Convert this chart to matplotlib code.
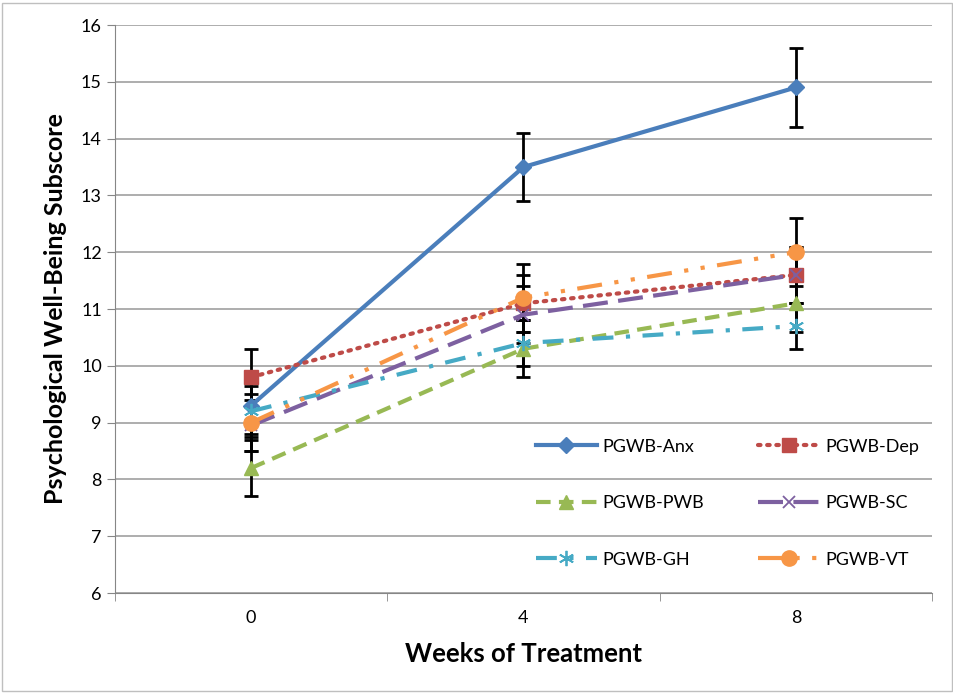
import matplotlib.pyplot as plt

weeks = ["0", "4", "8"]

anx = [9.3, 13.5, 14.9]
dep = [9.8, 11.1, 11.6]
pwb = [8.2, 10.3, 11.1]
sc = [8.95, 10.9, 11.6]
gh = [9.2, 10.4, 10.7]
vt = [9.0, 11.2, 12.0]

anx_err = [0.5, 0.6, 0.7]
dep_err = [0.5, 0.5, 0.5]
pwb_err = [0.5, 0.5, 0.5]
sc_err = [0.45, 0.5, 0.5]
gh_err = [0.45, 0.4, 0.4]
vt_err = [0.5, 0.6, 0.6]

plt.rcParams["font.family"] = ["Lato", "DejaVu Sans"]

fig = plt.figure(figsize=(9.54, 6.94), dpi=100)
ax = fig.add_axes([115 / 954, 1 - 593 / 694, (932 - 115) / 954, (593 - 25) / 694])

x = list(range(len(weeks)))

series = [
    ("PGWB-Anx", anx, anx_err, "#4A7EBB", "-", "D", 8),
    ("PGWB-Dep", dep, dep_err, "#BE4B48", (0, (0.6, 1.6)), "s", 10),
    ("PGWB-PWB", pwb, pwb_err, "#98B954", (0, (3.5, 2)), "^", 10),
    ("PGWB-SC", sc, sc_err, "#7D60A0", (0, (6, 2.5)), "x", 9),
    ("PGWB-GH", gh, gh_err, "#46AAC5", (0, (5, 3, 1, 3)), (6, 2, 0), 11),
    ("PGWB-VT", vt, vt_err, "#F79646", (0, (6, 3, 1, 3, 1, 3)), "o", 11),
]

# error bars first so the markers sit on top
for name, vals, err, color, ls, mk, ms in series:
    ax.errorbar(x, vals, yerr=err, fmt="none", ecolor="black", elinewidth=2,
                capsize=5, capthick=2, zorder=2)

handles = {}
for name, vals, err, color, ls, mk, ms in series:
    dash_cap = "round" if name == "PGWB-Dep" else "butt"
    thin = mk in ("x", (6, 2, 0))
    (ln,) = ax.plot(x, vals, color=color, linestyle=ls, linewidth=3, marker=mk,
                    markersize=ms, markeredgewidth=1.3 if thin else 1,
                    markeredgecolor=color, label=name, dash_capstyle=dash_cap, zorder=3)
    handles[name] = ln

ax.set_xlim(-0.5, 2.5)
ax.set_ylim(6, 16)
ax.set_yticks(range(6, 17))
ax.set_xticks(x)
ax.set_xticklabels(weeks)
ax.set_xticks([-0.5, 0.5, 1.5, 2.5], minor=True)
ax.tick_params(axis="x", which="major", length=0, labelsize=13, pad=12)
ax.tick_params(axis="x", which="minor", length=6, color="#868686")
ax.tick_params(axis="y", length=6, color="#868686", labelsize=13)

ax.yaxis.grid(True, color="#A0A0A0", linewidth=1.2)
ax.set_axisbelow(True)
for side in ("top", "right"):
    ax.spines[side].set_visible(False)
for side in ("left", "bottom"):
    ax.spines[side].set_color("#868686")

ax.set_xlabel("Weeks of Treatment", fontsize=18.5, fontweight="bold", labelpad=12)
ax.set_ylabel("Psychological Well-Being Subscore", fontsize=18, fontweight="bold", labelpad=10)

# legend fills row by row in the original: reorder for matplotlib's column fill
order = ["PGWB-Anx", "PGWB-PWB", "PGWB-GH", "PGWB-Dep", "PGWB-SC", "PGWB-VT"]
ax.legend([handles[n] for n in order], order, ncol=2, loc="upper left",
          bbox_to_anchor=(0.515, 0.272), frameon=False, fontsize=13,
          handlelength=3.4, handletextpad=0.3, columnspacing=3.0,
          labelspacing=2.25, borderpad=0, borderaxespad=0)

fig.patches.append(plt.Rectangle((0.002, 0.004), 0.996, 0.992, transform=fig.transFigure,
                                 fill=False, edgecolor="#BFBFBF", linewidth=1))

fig.savefig("out.png", dpi=100)
plt.close(fig)
